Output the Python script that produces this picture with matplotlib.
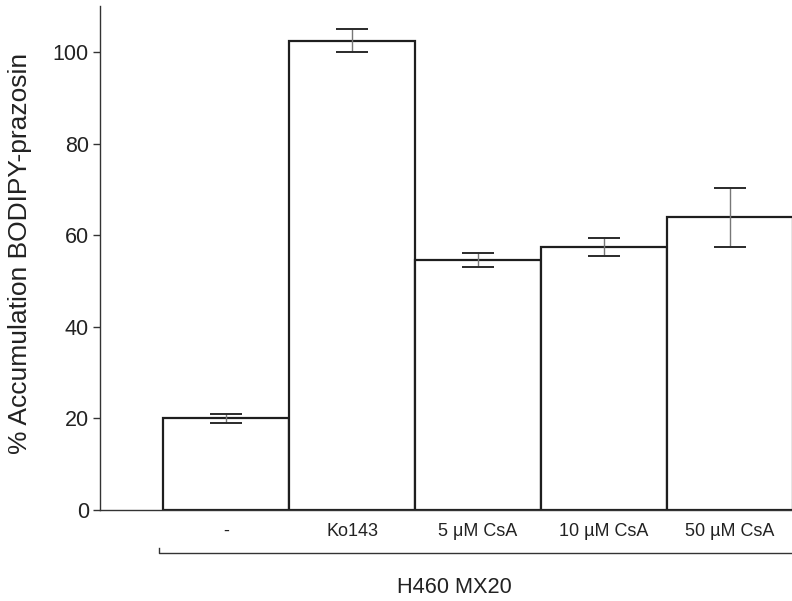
import matplotlib
matplotlib.use("Agg")
import matplotlib.pyplot as plt
import numpy as np

plt.rcParams['font.family'] = ['Liberation Sans', 'DejaVu Sans']

# Datos: acumulación de BODIPY-prazosin en H460 MX20
tratamientos = ['-', 'Ko143', '5 \u03bcM CsA', '10 \u00b5M CsA', '50 \u00b5M CsA']
acumulacion = [20.0, 102.5, 54.6, 57.5, 63.9]
error = [1.0, 2.5, 1.5, 2.0, 6.5]
grupo = 'H460 MX20'

fig = plt.figure(figsize=(7.92, 6.01), dpi=100)
ax = fig.add_axes([0.1263, 0.1514, 0.875, 0.838])

x = np.arange(len(tratamientos))
ax.bar(x, acumulacion, width=1.0, color='white', edgecolor='#1e1e1e',
       linewidth=1.6, zorder=2)

# Barras de error: línea vertical gris, topes oscuros
ax.errorbar(x, acumulacion, yerr=error, fmt='none', ecolor='#777777',
            elinewidth=1.0, capsize=0, zorder=3)
for xi, yi, ei in zip(x, acumulacion, error):
    for yc in (yi - ei, yi + ei):
        ax.plot([xi - 0.127, xi + 0.127], [yc, yc], color='#2a2a2a', lw=1.4,
                zorder=4, solid_capstyle='butt')

ax.set_xlim(-1.0, 4.5)
ax.set_ylim(0, 110)
ax.set_yticks([0, 20, 40, 60, 80, 100])
ax.set_xticks(x)
ax.set_xticklabels(tratamientos, fontsize=13, color='#222222')
ax.tick_params(axis='x', length=0, pad=9)
ax.tick_params(axis='y', length=5, width=1.0, color='#333333',
               labelsize=15.5, labelcolor='#222222', pad=3)

for s in ['top', 'right']:
    ax.spines[s].set_visible(False)
ax.spines['left'].set_color('#333333')
ax.spines['left'].set_linewidth(1.0)
ax.spines['bottom'].set_color('#333333')
ax.spines['bottom'].set_linewidth(1.0)

ax.set_ylabel('% Accumulation BODIPY-prazosin', fontsize=19, color='#222222')
ax.yaxis.set_label_coords(-0.098, 0.509)

# Corchete del grupo celular
trans = ax.get_xaxis_transform()
ax.plot([-0.53, -0.53, 4.6], [-0.076, -0.0855, -0.0855], transform=trans,
        color='#333333', lw=1.0, clip_on=False)
ax.text(1.81, -0.154, grupo, transform=trans, ha='center', va='center',
        fontsize=15.7, color='#222222')

fig.savefig('out.png', dpi=100)
